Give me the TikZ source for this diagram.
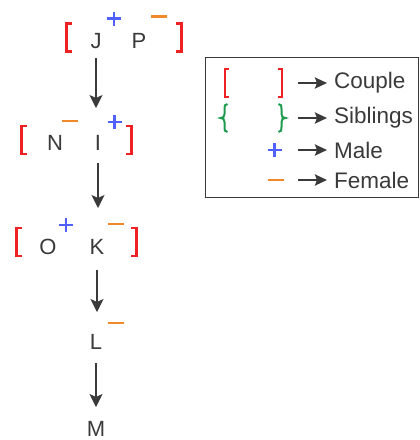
\documentclass[tikz,border=0pt]{standalone}
\usepackage{fontspec}
\setmainfont{Liberation Sans}
\usetikzlibrary{arrows.meta}
\definecolor{txt}{HTML}{3A3A3A}
\definecolor{cred}{HTML}{EE2222}
\definecolor{cgreen}{HTML}{1E9A4E}
\definecolor{cblue}{HTML}{5060FF}
\definecolor{corange}{HTML}{F0892A}
\begin{document}
\begin{tikzpicture}[x=1pt,y=-1pt,
  person/.style={font=\fontsize{22}{26}\selectfont, text=txt, inner sep=0pt, text height=16pt, text depth=0pt},
  legtext/.style={font=\fontsize{22.5}{26}\selectfont, text=txt, anchor=west, inner sep=0pt},
  arr/.style={draw=txt, line width=1.3pt, -{Stealth[length=13pt,width=13pt,inset=3pt]}},
  legarr/.style={draw=txt, line width=2.4pt, -{Stealth[length=12pt,width=11pt,inset=2pt]}},
  pics/lbr/.style={code={\draw[cred,line width=2.8pt] (5.5,-14) -- (0,-14) -- (0,14) -- (5.5,14);}},
  pics/rbr/.style={code={\draw[cred,line width=2.8pt] (-5.5,-14) -- (0,-14) -- (0,14) -- (-5.5,14);}},
  pics/lbrs/.style={code={\draw[cred,line width=2pt] (4,-14) -- (0,-14) -- (0,14) -- (4,14);}},
  pics/rbrs/.style={code={\draw[cred,line width=2pt] (-4,-14) -- (0,-14) -- (0,14) -- (-4,14);}},
  pics/lbrace/.style={code={\draw[cgreen,line width=2pt] (3.5,-14) .. controls (0.5,-14) and (0.5,-12) .. (0.5,-9) -- (0.5,-4) .. controls (0.5,-1) and (-1,0) .. (-3.5,0) .. controls (-1,0) and (0.5,1) .. (0.5,4) -- (0.5,9) .. controls (0.5,12) and (0.5,14) .. (3.5,14);}},
  pics/rbrace/.style={code={\draw[cgreen,line width=2pt] (-3.5,-14) .. controls (-0.5,-14) and (-0.5,-12) .. (-0.5,-9) -- (-0.5,-4) .. controls (-0.5,-1) and (1,0) .. (3.5,0) .. controls (1,0) and (-0.5,1) .. (-0.5,4) -- (-0.5,9) .. controls (-0.5,12) and (-0.5,14) .. (-3.5,14);}},
  pics/male/.style={code={\draw[cblue,line width=2.6pt] (-7,0) -- (7,0) (0,-7) -- (0,7);}},
  pics/female/.style={code={\draw[corange,line width=2.6pt] (-8,0) -- (8,0);}}
]
\useasboundingbox (0,0) rectangle (420,440);

% family tree
\node[person] (J) at (96,40) {J};
\node[person] (P) at (139,40) {P};
\pic at (66.5,37.5) {lbr};
\pic at (181.5,37.5) {rbr};
\pic at (114,18.5) {male};
\pic at (159,16.5) {female};

\node[person] (N) at (55,142) {N};
\node[person] (I) at (98,142) {I};
\pic at (21.5,140) {lbr};
\pic at (131.5,140) {rbr};
\pic at (70,121) {female};
\pic at (114.5,122) {male};

\node[person] (O) at (48,246) {O};
\node[person] (K) at (97,246) {K};
\pic at (16.5,242) {lbr};
\pic at (136.5,242) {rbr};
\pic at (66,225) {male};
\pic at (115.5,224) {female};

\node[person] (L) at (96,341) {L};
\pic at (116,323) {female};
\node[person] (M) at (96,428) {M};

\draw[arr, shorten <=18pt, shorten >=34pt] (J.center) -- (J.center |- I.center);
\draw[arr, shorten <=21pt, shorten >=38pt] (I.center) -- (I.center |- K.center);
\draw[arr, shorten <=24pt, shorten >=29pt] (K.center) -- (K.center |- L.center);
\draw[arr, shorten <=22pt, shorten >=21pt] (L.center) -- (L.center |- M.center);

% legend
\draw[txt, line width=1pt] (205,57) rectangle (418,197);
\pic at (224.5,83) {lbrs};
\pic at (281.5,83) {rbrs};
\pic at (224,118) {lbrace};
\pic at (282,118) {rbrace};
\pic at (274.5,150) {male};
\pic at (275.5,180) {female};

\node[legtext] (couple) at (334,83) {Couple};
\node[legtext] (siblings) at (334,118) {Siblings};
\node[legtext] (male) at (334,150) {Male};
\node[legtext] (female) at (334,180) {Female};

\coordinate (a1) at (298,83);
\coordinate (a2) at (298,118);
\coordinate (a3) at (298,150);
\coordinate (a4) at (298,180);
\draw[legarr, shorten >=7pt] (a1) -- (couple.west);
\draw[legarr, shorten >=7pt] (a2) -- (siblings.west);
\draw[legarr, shorten >=7pt] (a3) -- (male.west);
\draw[legarr, shorten >=7pt] (a4) -- (female.west);
\end{tikzpicture}
\end{document}
